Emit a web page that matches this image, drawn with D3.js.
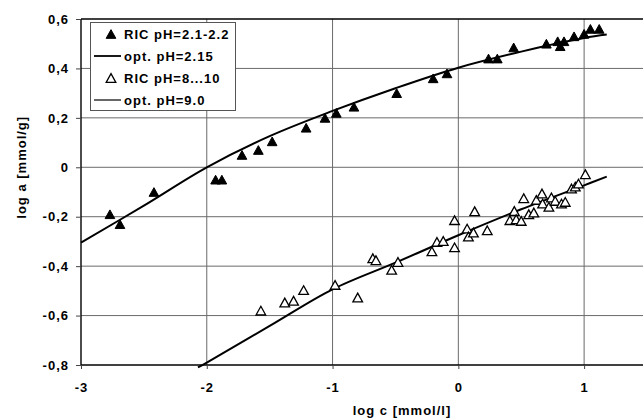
<!DOCTYPE html>
<html>
<head>
<meta charset="utf-8">
<script src="https://cdn.jsdelivr.net/npm/d3@7"></script>
<style>
  html, body { margin: 0; padding: 0; background: #fff; }
  svg text { font-family: "Liberation Sans", Arial, sans-serif; font-weight: bold; font-size: 13px; letter-spacing: 1px; fill: #000; }
</style>
</head>
<body>
<svg id="chart" width="643" height="418"></svg>
<script>
// Measured isotherms, pH 2.1-2.2 (filled triangles)
const acidLogC = [-2.77, -2.69, -2.42, -1.93, -1.88, -1.72, -1.59, -1.48, -1.21, -1.06, -0.97, -0.83,
                  -0.49, -0.20, -0.09, 0.24, 0.31, 0.44, 0.70, 0.79, 0.84, 0.81, 0.92, 1.00, 1.05, 1.12];
const acidLogA = [-0.19, -0.23, -0.10, -0.05, -0.05, 0.05, 0.07, 0.105, 0.16, 0.20, 0.22, 0.245,
                  0.30, 0.36, 0.38, 0.44, 0.44, 0.485, 0.50, 0.51, 0.51, 0.49, 0.53, 0.54, 0.56, 0.56];

// Measured isotherms, pH 8...10 (open triangles)
const baseLogC = [-1.57, -1.38, -1.31, -1.23, -0.98, -0.80, -0.68, -0.655, -0.53, -0.48, -0.21, -0.17,
                  -0.12, -0.03, -0.03, 0.07, 0.08, 0.12, 0.13, 0.23, 0.52, 0.445, 0.41, 0.46, 0.50,
                  0.56, 0.60, 0.62, 0.665, 0.67, 0.72, 0.74, 0.77, 0.82, 0.85, 0.90, 0.93, 0.955, 1.01];
const baseLogA = [-0.58, -0.547, -0.54, -0.497, -0.476, -0.527, -0.368, -0.376, -0.415, -0.383, -0.34, -0.302,
                  -0.298, -0.324, -0.214, -0.248, -0.28, -0.264, -0.178, -0.255, -0.125, -0.177, -0.214, -0.21, -0.217,
                  -0.19, -0.183, -0.132, -0.106, -0.147, -0.16, -0.122, -0.136, -0.147, -0.14, -0.086, -0.078, -0.066, -0.028];

// Fitted curves
const fitAcidLogC = [-3.0, -2.5, -2.0, -1.5, -1.0, -0.5, 0.0, 0.5, 1.0, 1.18];
const fitAcidLogA = [-0.305, -0.155, 0.0, 0.126, 0.228, 0.32, 0.403, 0.468, 0.523, 0.537];
const fitBaseLogC = [-2.07, -2.0, -1.5, -1.0, -0.5, 0.0, 0.5, 1.0, 1.18];
const fitBaseLogA = [-0.81, -0.79, -0.642, -0.494, -0.386, -0.275, -0.17, -0.073, -0.038];

// Axis ticks
const xTicks = [-3, -2, -1, 0, 1];
const yTicks = [0.6, 0.4, 0.2, 0, -0.2, -0.4, -0.6, -0.8];

const legendLabels = ["RIC pH=2.1-2.2", "opt. pH=2.15", "RIC pH=8...10", "opt. pH=9.0"];

const svg = d3.select("#chart");
const x = d3.scaleLinear().domain([-3, 1.5]).range([81, 647]);
const y = d3.scaleLinear().domain([-0.8, 0.6]).range([365, 19]);
const fmtY = v => (v === 0 ? "0" : v.toFixed(1).replace(".", ","));
const fmtX = v => String(v);

// Triangle symbol centred on its bounding box
const tri = {
  draw(ctx, size) {
    const w = Math.sqrt(size * 2 / 0.9);
    const h = w * 0.9;
    ctx.moveTo(0, -h / 2);
    ctx.lineTo(w / 2, h / 2);
    ctx.lineTo(-w / 2, h / 2);
    ctx.closePath();
  }
};
const triPath = d3.symbol().type(tri).size(42)();

// Grid
const grid = svg.append("g");
grid.selectAll("line.v").data(xTicks.filter(d => d > -3)).join("line")
  .attr("x1", d => x(d)).attr("x2", d => x(d))
  .attr("y1", y(0.6)).attr("y2", y(-0.8))
  .attr("stroke", "#6a6a6a").attr("stroke-width", 1);
grid.selectAll("line.h").data(yTicks.filter(d => d > -0.8 && d < 0.6)).join("line")
  .attr("x1", x(-3)).attr("x2", 643)
  .attr("y1", d => y(d)).attr("y2", d => y(d))
  .attr("stroke", "#6a6a6a").attr("stroke-width", 1);

// Axes
const xAxis = d3.axisBottom(x).tickValues(xTicks).tickFormat(fmtX).tickSize(4).tickPadding(14);
const gx = svg.append("g").attr("transform", `translate(0,${y(-0.8)})`).call(xAxis);
gx.select(".domain").attr("d", `M${x(-3)},0H643`).attr("stroke", "#000").attr("stroke-width", 1.4);
gx.selectAll(".tick line").attr("stroke", "#444");
gx.selectAll("text").attr("font-size", null).attr("font-family", null);

const yAxis = d3.axisLeft(y).tickValues(yTicks).tickFormat(fmtY).tickSize(5).tickPadding(7);
const gy = svg.append("g").attr("transform", `translate(${x(-3)},0)`).call(yAxis);
gy.select(".domain").attr("d", `M0,${y(0.6)}V${y(-0.8)}`).attr("stroke", "#000").attr("stroke-width", 1.4);
gy.selectAll(".tick line").attr("stroke", "#444");
gy.selectAll("text").attr("font-size", null).attr("font-family", null);

// Top border
svg.append("line").attr("x1", x(-3)).attr("x2", 643).attr("y1", y(0.6)).attr("y2", y(0.6))
  .attr("stroke", "#000").attr("stroke-width", 1.4);

// Fitted curves
const line = d3.line().x(d => x(d[0])).y(d => y(d[1])).curve(d3.curveCatmullRom.alpha(0.5));
svg.append("path").datum(d3.zip(fitAcidLogC, fitAcidLogA)).attr("d", line)
  .attr("fill", "none").attr("stroke", "#000").attr("stroke-width", 2);
svg.append("path").datum(d3.zip(fitBaseLogC, fitBaseLogA)).attr("d", line)
  .attr("fill", "none").attr("stroke", "#000").attr("stroke-width", 2);

// Measured points
svg.append("g").selectAll("path").data(d3.zip(baseLogC, baseLogA)).join("path")
  .attr("d", triPath).attr("transform", d => `translate(${x(d[0])},${y(d[1])})`)
  .attr("fill", "#fff").attr("stroke", "#000").attr("stroke-width", 1.3);
svg.append("g").selectAll("path").data(d3.zip(acidLogC, acidLogA)).join("path")
  .attr("d", triPath).attr("transform", d => `translate(${x(d[0])},${y(d[1])})`)
  .attr("fill", "#000").attr("stroke", "#000").attr("stroke-width", 1);

// Axis titles
svg.append("text").attr("x", 402).attr("y", 415).attr("text-anchor", "middle").text("log c [mmol/l]");
svg.append("text").attr("transform", `translate(26,${y(0)}) rotate(-90)`).attr("text-anchor", "middle")
  .text("log a [mmol/g]");

// Legend
const lg = svg.append("g");
lg.append("rect").attr("x", 90.5).attr("y", 22.5).attr("width", 145).attr("height", 88)
  .attr("fill", "#fff").attr("stroke", "#555").attr("stroke-width", 1);
const rowY = [34, 56, 78, 100];
legendLabels.forEach((lab, i) => {
  const cy = rowY[i];
  if (i === 0 || i === 2) {
    lg.append("path").attr("d", triPath).attr("transform", `translate(111,${cy})`)
      .attr("fill", i === 0 ? "#000" : "#fff").attr("stroke", "#000").attr("stroke-width", i === 0 ? 1 : 1.3);
  } else {
    lg.append("line").attr("x1", 94).attr("x2", 121).attr("y1", cy).attr("y2", cy)
      .attr("stroke", "#000").attr("stroke-width", i === 1 ? 1.8 : 1.2);
  }
  lg.append("text").attr("x", 124).attr("y", cy + 4.5).text(lab);
});
</script>
</body>
</html>
